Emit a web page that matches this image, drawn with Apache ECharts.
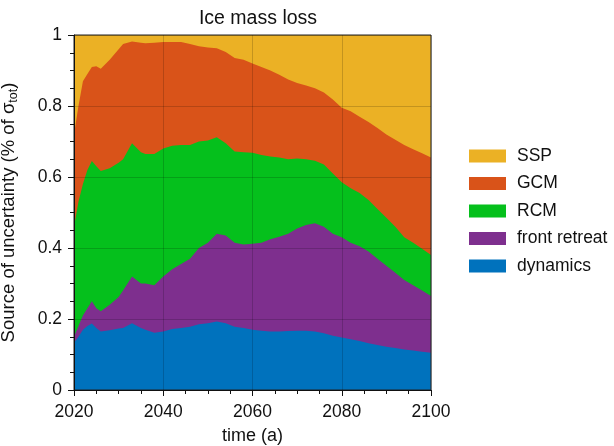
<!DOCTYPE html>
<html><head><meta charset="utf-8">
<script src="https://cdn.jsdelivr.net/npm/echarts@6/dist/echarts.min.js"></script>
<style>html,body{margin:0;padding:0;background:#fff}#c{width:614px;height:446px}</style>
</head><body><div id="c"></div>
<script>
// Years on a common grid
const years = [2020,2021,2022,2023,2024,2025,2026,2028,2030,2031,2033,2035,2036,2038,2040,2042,2044,2046,2048,2050,2052,2054,2056,2058,2060,2062,2064,2066,2068,2070,2072,2074,2076,2078,2080,2082,2084,2086,2088,2090,2092,2094,2096,2098,2100];
// Cumulative upper boundaries of each layer
const topDynamics = [.133,.15,.17,.18,.187,.175,.165,.168,.173,.175,.188,.175,.17,.161,.165,.172,.175,.178,.185,.188,.193,.188,.178,.175,.17,.167,.165,.165,.166,.167,.167,.165,.16,.153,.148,.143,.138,.132,.127,.122,.118,.114,.111,.108,.105];
const topFront = [.15,.18,.21,.23,.25,.23,.222,.24,.262,.28,.32,.30,.30,.295,.32,.34,.355,.37,.40,.415,.44,.435,.415,.41,.412,.415,.425,.432,.44,.455,.465,.47,.46,.44,.43,.415,.405,.39,.37,.35,.33,.31,.295,.28,.265];
const topRCM = [.46,.53,.58,.62,.645,.63,.617,.625,.64,.65,.695,.67,.665,.665,.68,.688,.69,.69,.70,.703,.712,.695,.672,.67,.668,.662,.658,.655,.65,.652,.65,.646,.635,.61,.585,.568,.555,.535,.51,.485,.46,.43,.415,.398,.38];
const topGCM = [.72,.80,.87,.89,.91,.912,.905,.93,.96,.975,.982,.978,.977,.978,.98,.98,.98,.975,.968,.965,.963,.952,.935,.93,.92,.91,.90,.888,.875,.865,.858,.85,.838,.818,.795,.785,.77,.755,.738,.72,.705,.69,.678,.667,.655];
const topSSP = years.map(() => 1);

// drawn back to front
const names = ['SSP','GCM','RCM','front retreat','dynamics'];
const colors = ['#EBB125','#D95319','#05C01C','#7E2F8E','#0072BD'];
const tops = [topSSP, topGCM, topRCM, topFront, topDynamics];

const series = names.map((n, k) => ({
  name: n, type: 'line', showSymbol: false, symbol: 'none',
  lineStyle: {width: 0}, itemStyle: {color: colors[k]},
  areaStyle: {color: colors[k], opacity: 1, origin: 'start'},
  emphasis: {disabled: true}, z: 2 + k,
  data: years.map((y, i) => [y, tops[k][i]])
}));

const font = 'Liberation Sans, Arial, sans-serif';
const ink = '#111';
const chart = echarts.init(document.getElementById('c'));
chart.setOption({
  animation: false,
  textStyle: {fontFamily: font},
  title: {text: 'Ice mass loss', left: 253, top: 4, textAlign: 'center',
    textStyle: {fontFamily: font, fontSize: 19.5, fontWeight: 'normal', color: ink}},
  grid: {left: 74, right: 183, top: 35, bottom: 56, outerBoundsMode: 'none', containLabel: false,
    show: true, borderColor: '#222', borderWidth: 1, backgroundColor: 'transparent', z: 20},
  legend: {orient: 'vertical', left: 469, top: 147, padding: 0, itemWidth: 37, itemHeight: 13, itemGap: 9.5,
    icon: 'rect', data: ['SSP','GCM','RCM','front retreat','dynamics'],
    textStyle: {fontFamily: font, fontSize: 17.5, color: ink, padding: [0,0,0,6]}},
  xAxis: {type: 'value', min: 2020, max: 2100, interval: 20, z: 20,
    name: 'time (a)', nameLocation: 'middle', nameGap: 37,
    nameTextStyle: {fontFamily: font, fontSize: 18, color: ink},
    axisLine: {show: true, lineStyle: {color: ink, width: 1}},
    axisTick: {show: true, length: 6, lineStyle: {color: ink}},
    minorTick: {show: true, splitNumber: 4, length: 4, lineStyle: {color: ink}},
    axisLabel: {fontFamily: font, fontSize: 17.5, color: ink, margin: 13, formatter: v => String(v)},
    splitLine: {show: true, lineStyle: {color: 'rgba(0,0,0,0.17)', width: 1}}},
  yAxis: {type: 'value', min: 0, max: 1, interval: 0.2, z: 20,
    name: '{a|Source of uncertainty (% of σ}{s|tot}{a|)}', nameLocation: 'middle', nameGap: 54,
    nameTextStyle: {fontFamily: font, color: ink,
      rich: {a: {fontFamily: font, fontSize: 18.5, color: ink},
             s: {fontFamily: font, fontSize: 12.5, color: ink, verticalAlign: 'bottom', padding: [9,0,0,0]}}},
    axisLine: {show: true, lineStyle: {color: ink, width: 1}},
    axisTick: {show: true, length: 6, lineStyle: {color: ink}},
    minorTick: {show: true, splitNumber: 4, length: 4, lineStyle: {color: ink}},
    axisLabel: {fontFamily: font, fontSize: 17.5, color: ink, margin: 12},
    splitLine: {show: true, lineStyle: {color: 'rgba(0,0,0,0.17)', width: 1}}},
  series: series
});
</script></body></html>
